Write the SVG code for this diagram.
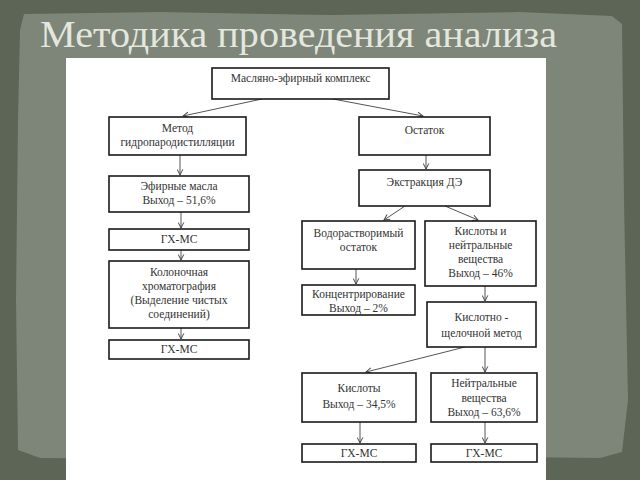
<svg xmlns="http://www.w3.org/2000/svg" width="640" height="480" viewBox="0 0 640 480">
<defs>
<style>
.box{fill:#fff;stroke:#1a1a1a;stroke-width:1.6}
.t{font-family:"Liberation Serif","DejaVu Serif",serif;font-size:11.5px;fill:#333;text-anchor:middle}
.title{font-family:"Liberation Serif","DejaVu Serif",serif;font-size:38px;fill:#e4e7de}
.c{fill:none;stroke:#555;stroke-width:1}
</style>
<marker id="ah" viewBox="0 0 10 10" refX="9" refY="5" markerWidth="7" markerHeight="7" orient="auto" markerUnits="userSpaceOnUse">
<path d="M1,1 L9,5 L1,9" fill="none" stroke="#444" stroke-width="1.4"/>
</marker>
</defs>
<rect x="0" y="0" width="640" height="480" fill="#5c6556"/>
<path d="M24,14 L160,12 L330,15 L520,12 L612,16 L622,24 L624,200 L628,400 L622,452 L600,458 L420,456 L200,459 L40,458 L18,450 L16,300 L18,120 L20,30 Z" fill="#7e8579"/>
<text class="title" x="40" y="47" textLength="517" lengthAdjust="spacingAndGlyphs">Методика проведения анализа</text>
<rect x="66" y="58" width="480" height="422" fill="#fff"/>
<g id="connectors">
<line class="c" x1="262" y1="99" x2="183" y2="116" marker-end="url(#ah)"/>
<line class="c" x1="333" y1="99" x2="423" y2="116" marker-end="url(#ah)"/>
<line class="c" x1="180" y1="155" x2="180" y2="175" marker-end="url(#ah)"/>
<line class="c" x1="181" y1="212" x2="181" y2="228" marker-end="url(#ah)"/>
<line class="c" x1="181" y1="250" x2="181" y2="260" marker-end="url(#ah)"/>
<line class="c" x1="181" y1="328" x2="181" y2="339" marker-end="url(#ah)"/>
<line class="c" x1="426" y1="155" x2="426" y2="169" marker-end="url(#ah)"/>
<line class="c" x1="405" y1="206" x2="384" y2="220" marker-end="url(#ah)"/>
<line class="c" x1="445" y1="206" x2="478" y2="220" marker-end="url(#ah)"/>
<line class="c" x1="356" y1="269" x2="356" y2="284" marker-end="url(#ah)"/>
<line class="c" x1="485" y1="286" x2="485" y2="301" marker-end="url(#ah)"/>
<line class="c" x1="465" y1="347" x2="366" y2="372" marker-end="url(#ah)"/>
<line class="c" x1="485" y1="347" x2="485" y2="372" marker-end="url(#ah)"/>
<line class="c" x1="360" y1="422" x2="360" y2="443" marker-end="url(#ah)"/>
<line class="c" x1="485" y1="422" x2="485" y2="443" marker-end="url(#ah)"/>
</g>
<g id="n1"><rect class="box" x="212" y="68" width="177" height="31"/><text class="t" x="300.5" y="82">Масляно-эфирный  комплекс</text></g>
<g id="n2"><rect class="box" x="109" y="117" width="137" height="38"/><text class="t" x="177.5" y="132">Метод</text><text class="t" x="177.5" y="146">гидропародистилляции</text></g>
<g id="n3"><rect class="box" x="359" y="117" width="131" height="38"/><text class="t" x="424.5" y="134">Остаток</text></g>
<g id="n4"><rect class="box" x="109" y="176" width="140" height="36"/><text class="t" x="179" y="190">Эфирные масла</text><text class="t" x="179" y="204">Выход – 51,6%</text></g>
<g id="n5"><rect class="box" x="359" y="170" width="131" height="36"/><text class="t" x="424.5" y="186">Экстракция ДЭ</text></g>
<g id="n6"><rect class="box" x="109" y="229" width="140" height="21"/><text class="t" x="179" y="243">ГХ-МС</text></g>
<g id="n7"><rect class="box" x="302" y="221" width="113" height="48"/><text class="t" x="358.5" y="237">Водорастворимый</text><text class="t" x="358.5" y="251">остаток</text></g>
<g id="n8"><rect class="box" x="425" y="221" width="111" height="65"/><text class="t" x="480.5" y="235">Кислоты и</text><text class="t" x="480.5" y="249">нейтральные</text><text class="t" x="480.5" y="263">вещества</text><text class="t" x="480.5" y="277">Выход – 46%</text></g>
<g id="n9"><rect class="box" x="109" y="261" width="140" height="67"/><text class="t" x="179" y="276">Колоночная</text><text class="t" x="179" y="290">хроматография</text><text class="t" x="179" y="304">(Выделение чистых</text><text class="t" x="179" y="318">соединений)</text></g>
<g id="n10"><rect class="box" x="302" y="285" width="113" height="30"/><text class="t" x="358.5" y="298">Концентрирование</text><text class="t" x="358.5" y="312">Выход – 2%</text></g>
<g id="n11"><rect class="box" x="427" y="302" width="109" height="45"/><text class="t" x="481.5" y="321">Кислотно -</text><text class="t" x="481.5" y="337">щелочной метод</text></g>
<g id="n12"><rect class="box" x="109" y="340" width="140" height="19"/><text class="t" x="179" y="353">ГХ-МС</text></g>
<g id="n13"><rect class="box" x="302" y="373" width="114" height="49"/><text class="t" x="359" y="392">Кислоты</text><text class="t" x="359" y="408">Выход – 34,5%</text></g>
<g id="n14"><rect class="box" x="431" y="373" width="106" height="49"/><text class="t" x="484" y="387">Нейтральные</text><text class="t" x="484" y="402">вещества</text><text class="t" x="484" y="416">Выход – 63,6%</text></g>
<g id="n15"><rect class="box" x="302" y="444" width="114" height="18"/><text class="t" x="359" y="457">ГХ-МС</text></g>
<g id="n16"><rect class="box" x="431" y="444" width="106" height="18"/><text class="t" x="484" y="457">ГХ-МС</text></g>
</svg>
